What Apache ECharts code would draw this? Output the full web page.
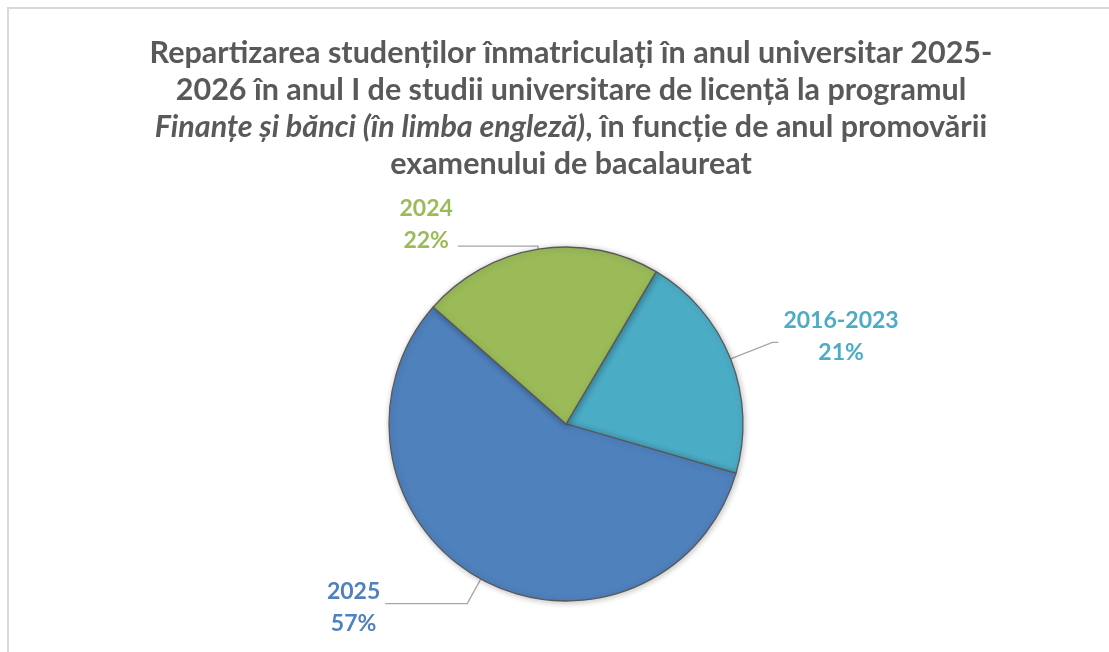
<!DOCTYPE html>
<html>
<head>
<meta charset="utf-8">
<script src="https://cdn.jsdelivr.net/npm/echarts@6/dist/echarts.min.js"></script>
<style>
  html, body { margin: 0; padding: 0; background: #fff; }
  #chart { width: 1109px; height: 652px; }
</style>
</head>
<body>
<div id="chart"></div>
<script>
  // data (percent of students)
  const categories = ['2016-2023', '2025', '2024'];
  const values = [21, 57, 22];
  const colors = ['#4BACC6', '#4F81BD', '#9BBB59'];

  const titleLines = [
    '{b|Repartizarea studenților înmatriculați în anul universitar 2025-}',
    '{b|2026 în anul I de studii universitare de licență la programul}',
    '{i|Finanțe și bănci (în limba engleză)}{b|, în funcție de anul promovării}',
    '{b|examenului de bacalaureat}'
  ];

  const myChart = echarts.init(document.getElementById('chart'));
  const font = 'Lato, "Open Sans", sans-serif';

  // per-slice label tweaks
  const labelPad = {
    '2016-2023': [0, 0, 12, 0],
    '2025': [8, 0, 0, 0],
    '2024': [0, 0, 44, 0]
  };
  const lineLen = {
    '2016-2023': [45, 6],
    '2025': [28, 82],
    '2024': [3, 80]
  };

  const option = {
    animation: false,
    graphic: [{
      type: 'rect',
      shape: { x: 8, y: 8, width: 1300, height: 800 },
      style: { fill: 'none', stroke: '#d9d9d9', lineWidth: 2 },
      silent: true
    }],
    title: {
      text: titleLines.join('\n'),
      left: 566,
      textAlign: 'center',
      top: 30,
      textStyle: {
        rich: {
          b: { fontFamily: font, fontWeight: 'bold', fontSize: 30.5, color: '#595959', lineHeight: 37 },
          i: { fontFamily: font, fontWeight: 'bold', fontStyle: 'italic', fontSize: 30.5, color: '#595959', lineHeight: 37 }
        }
      }
    },
    series: [{
      type: 'pie',
      center: [566, 424],
      radius: 177,
      startAngle: 59.4,
      clockwise: true,
      data: categories.map((name, i) => ({
        name: name,
        value: values[i],
        itemStyle: { color: colors[i] },
        label: {
          color: colors[i],
          padding: labelPad[name]
        },
        labelLine: {
          length: lineLen[name][0],
          length2: lineLen[name][1]
        }
      })),
      itemStyle: {
        borderColor: '#595959',
        borderWidth: 1.3,
        shadowBlur: 6,
        shadowColor: 'rgba(0,0,0,0.25)',
        shadowOffsetX: 1,
        shadowOffsetY: 1
      },
      label: {
        show: true,
        fontFamily: font,
        fontWeight: 'bold',
        fontSize: 23,
        lineHeight: 32,
        formatter: function (p) {
          return '{c|' + p.name + '}\n{c|' + p.value + '%}';
        },
        rich: {
          c: { align: 'center', fontFamily: font, fontWeight: 'bold', fontSize: 23, lineHeight: 32 }
        }
      },
      labelLine: {
        show: true,
        lineStyle: { color: '#a6a6a6', width: 1.3 }
      },
      emphasis: { disabled: true }
    }]
  };
  myChart.setOption(option);
</script>
</body>
</html>
